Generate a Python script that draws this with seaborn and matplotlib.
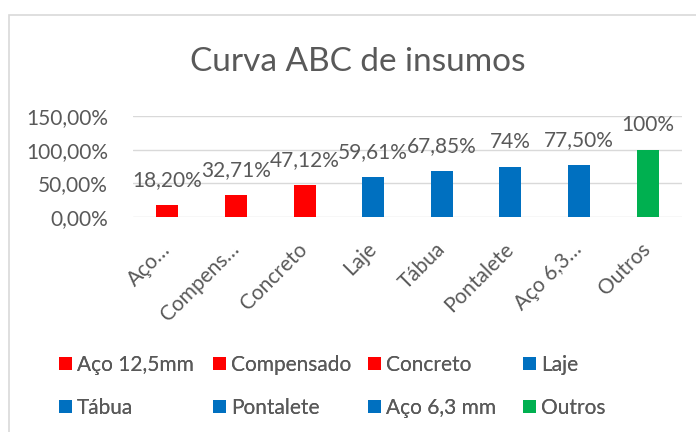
import matplotlib
matplotlib.use("Agg")
import matplotlib.pyplot as plt
import matplotlib.patches as mpatches
import seaborn as sns
import pandas as pd

categories = ["Aço 12,5mm", "Compensado", "Concreto", "Laje", "Tábua", "Pontalete", "Aço 6,3 mm", "Outros"]
tick_labels = ["Aço…", "Compens…", "Concreto", "Laje", "Tábua", "Pontalete", "Aço 6,3…", "Outros"]
values = [0.1820, 0.3271, 0.4712, 0.5961, 0.6785, 0.74, 0.7750, 1.00]
value_labels = ["18,20%", "32,71%", "47,12%", "59,61%", "67,85%", "74%", "77,50%", "100%"]
colors = ["#FF0000", "#FF0000", "#FF0000", "#0070C0", "#0070C0", "#0070C0", "#0070C0", "#00B050"]
y_ticks = [0.0, 0.5, 1.0, 1.5]
y_tick_labels = ["0,00%", "50,00%", "100,00%", "150,00%"]
title = "Curva ABC de insumos"

sns.set_theme(style="white")
plt.rcParams["font.family"] = ["Lato", "DejaVu Sans"]

TXT = "#595959"
GRID = "#D9D9D9"
FS = 15

df = pd.DataFrame({"cat": categories, "val": values})

fig = plt.figure(figsize=(6.96, 4.32), dpi=100)
ax = fig.add_axes([133/696, 1-217/432, (682-133)/696, (217-116)/432])

sns.barplot(data=df, x="cat", y="val", hue="cat", palette=dict(zip(categories, colors)),
            width=0.32, ax=ax, legend=True, saturation=1, linewidth=0)

handles, labels = ax.get_legend_handles_labels()
if ax.get_legend() is not None:
    ax.get_legend().remove()

ax.set_ylim(0, 1.5)
ax.set_xlim(-0.5, len(categories) - 0.5)
ax.set_yticks(y_ticks)
ax.set_yticklabels(y_tick_labels)
ax.set_xticks(range(len(categories)))
ax.set_xticklabels(tick_labels, rotation=45, ha="right", va="center", rotation_mode="anchor")
ax.tick_params(axis="both", length=0, labelsize=FS, colors=TXT)
ax.tick_params(axis="y", pad=18)
ax.tick_params(axis="x", pad=21)
ax.set_xlabel("")
ax.set_ylabel("")
for s in ax.spines.values():
    s.set_visible(False)
ax.yaxis.grid(True, color=GRID, linewidth=1)
ax.set_axisbelow(True)

for i, (v, lab) in enumerate(zip(values, value_labels)):
    ax.annotate(lab, (i, v), xytext=(0, 18), textcoords="offset points",
                ha="center", va="center", fontsize=FS, color=TXT, annotation_clip=False)

fig.text(358/696, 1-62/432, title, ha="center", va="center", fontsize=24, color=TXT)

# legend in 4 columns, 2 rows (row-major as in the reference)
col_x = [59/696, 213/696, 368/696, 523/696]
for c in range(4):
    hs = [handles[c], handles[c + 4]]
    ls = [labels[c], labels[c + 4]]
    leg = fig.legend(hs, ls, loc="upper left", bbox_to_anchor=(col_x[c], 1-355/432),
                     frameon=False, fontsize=FS, labelcolor=TXT, handlelength=0.625,
                     handleheight=0.625, handletextpad=0.25, labelspacing=1.1,
                     borderaxespad=0, borderpad=0)
    fig.add_artist(leg)

# chart border
fig.add_artist(mpatches.Rectangle((9/696, -0.1), 1.0, 1.1 - 15/432,
                                  transform=fig.transFigure, fill=False,
                                  edgecolor=GRID, linewidth=1.2))

fig.savefig("out.png", dpi=100)
